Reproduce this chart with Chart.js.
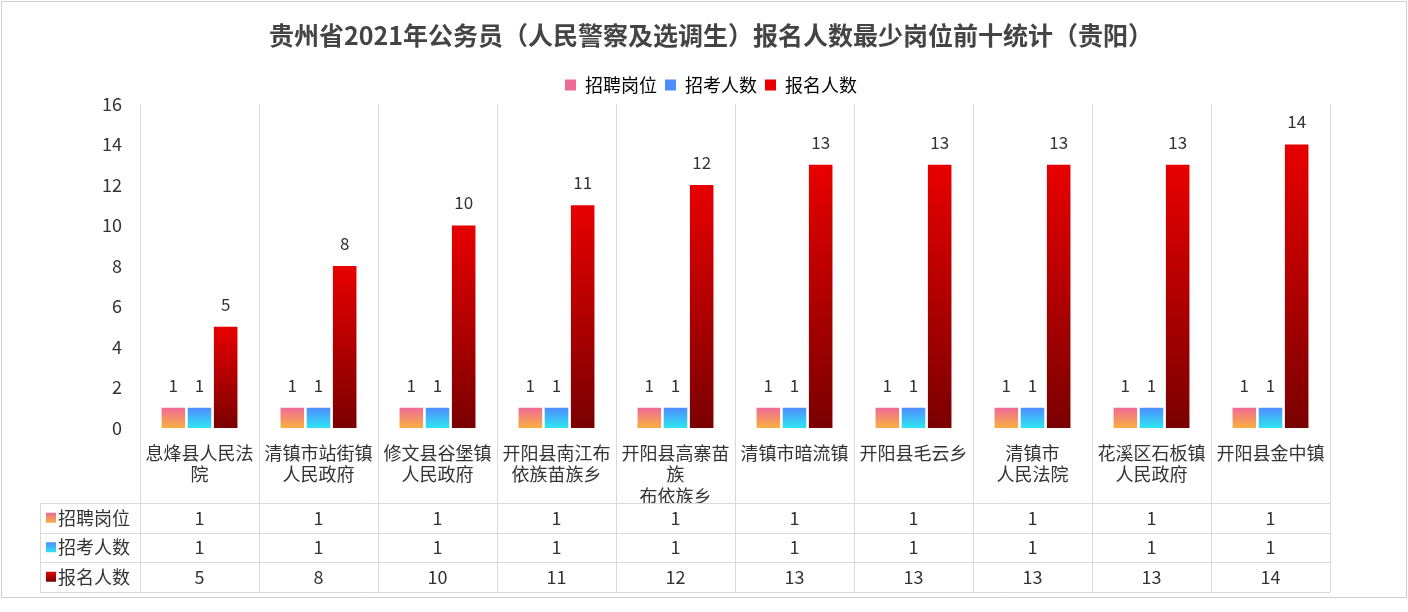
<!DOCTYPE html>
<html><head><meta charset="utf-8">
<script src="https://cdn.jsdelivr.net/npm/chart.js@4"></script>
<style>body{margin:0;background:#fff}#wrap{width:1408px;height:612px}</style>
</head><body>
<div id="wrap"><canvas id="canvas" width="1408" height="612"></canvas></div>
<script>
const categories = [
  ['息烽县人民法', '院'], ['清镇市站街镇', '人民政府'], ['修文县谷堡镇', '人民政府'],
  ['开阳县南江布', '依族苗族乡'], ['开阳县高寨苗', '族', '布依族乡'], ['清镇市暗流镇'],
  ['开阳县毛云乡'], ['清镇市', '人民法院'], ['花溪区石板镇', '人民政府'], ['开阳县金中镇']
];
const posts = [1, 1, 1, 1, 1, 1, 1, 1, 1, 1];
const hires = [1, 1, 1, 1, 1, 1, 1, 1, 1, 1];
const applicants = [5, 8, 10, 11, 12, 13, 13, 13, 13, 14];
const seriesNames = ['招聘岗位', '招考人数', '报名人数'];
const gradColors = [['#f06a98', '#f8b040'], ['#4f8cff', '#2ee6f0'], ['#e80000', '#7a0000']];
const font = '"Noto Sans CJK SC", "Noto Sans", sans-serif';

function grad(i) {
  return function(ctx) {
    const chart = ctx.chart;
    const ys = chart.scales && chart.scales.y;
    if (!chart.chartArea || !ys || ctx.parsed === undefined) return gradColors[i][0];
    const top = ys.getPixelForValue(ctx.parsed.y), base = ys.getPixelForValue(0);
    if (!isFinite(top) || !isFinite(base) || top === base) return gradColors[i][0];
    const g = chart.ctx.createLinearGradient(0, top, 0, base);
    g.addColorStop(0, gradColors[i][0]);
    g.addColorStop(1, gradColors[i][1]);
    return g;
  };
}

const tablePlugin = {
  id: 'tablePlugin',
  afterDraw(chart) {
    const c = chart.ctx, area = chart.chartArea;
    const rowH = 29.5, top = 503, left = 40;
    const sets = chart.data.datasets;
    c.save();
    c.font = '17px ' + font; c.fillStyle = '#333'; c.textAlign = 'center'; c.textBaseline = 'bottom';
    sets.forEach((ds, i) => {
      chart.getDatasetMeta(i).data.forEach((b, j) => c.fillText(ds.data[j], b.x, b.y - 14));
    });
    c.strokeStyle = '#d9d9d9'; c.lineWidth = 1;
    const step = (area.right - area.left) / categories.length;
    for (let k = 0; k <= categories.length; k++) {
      const gx = Math.round(area.left + k * step) + 0.5;
      c.beginPath(); c.moveTo(gx, area.top); c.lineTo(gx, top + rowH * 3); c.stroke();
    }
    c.beginPath(); c.moveTo(left + 0.5, top); c.lineTo(left + 0.5, top + rowH * 3); c.stroke();
    for (let r = 0; r <= 3; r++) {
      const y = Math.round(top + r * rowH) + 0.5;
      c.beginPath(); c.moveTo(left, y); c.lineTo(area.right, y); c.stroke();
    }
    c.textBaseline = 'middle'; c.font = '18px ' + font;
    sets.forEach((ds, r) => {
      const cy = top + r * rowH + rowH / 2;
      const g = c.createLinearGradient(0, cy - 5, 0, cy + 5);
      g.addColorStop(0, gradColors[r][0]); g.addColorStop(1, gradColors[r][1]);
      c.fillStyle = g; c.fillRect(left + 6, cy - 5, 10, 10);
      c.fillStyle = '#333'; c.textAlign = 'left';
      c.fillText(seriesNames[r], left + 18, cy);
      c.textAlign = 'center';
      ds.data.forEach((v, j) => c.fillText(v, area.left + step * (j + 0.5), cy));
    });
    c.strokeStyle = '#d0d0d0';
    c.strokeRect(1.5, 1.5, 1405, 596);
    c.restore();
  }
};

new Chart(document.getElementById('canvas').getContext('2d'), {
  type: 'bar',
  data: {
    labels: categories,
    datasets: [
      { label: seriesNames[0], data: posts, backgroundColor: grad(0) },
      { label: seriesNames[1], data: hires, backgroundColor: grad(1) },
      { label: seriesNames[2], data: applicants, backgroundColor: grad(2) }
    ]
  },
  options: {
    responsive: false, animation: false,
    layout: { padding: { left: 92, right: 78, top: 0, bottom: 108 } },
    datasets: { bar: { categoryPercentage: 0.66, barPercentage: 0.9 } },
    plugins: {
      title: { display: true, text: '贵州省2021年公务员（人民警察及选调生）报名人数最少岗位前十统计（贵阳）',
        font: { family: font, size: 25, weight: 'bold' }, color: '#444', padding: { top: 20, bottom: 18 } },
      legend: { labels: { font: { family: font, size: 18 }, color: '#333', boxWidth: 11, boxHeight: 11, padding: 8,
        generateLabels: () => seriesNames.map((n, i) => ({ text: n, fillStyle: gradColors[i][0], strokeStyle: gradColors[i][0], lineWidth: 0, datasetIndex: i })) } },
      tooltip: { enabled: false }
    },
    scales: {
      x: { grid: { display: false }, border: { display: false },
        ticks: { font: { family: font, size: 18 }, color: '#333', maxRotation: 0, autoSkip: false, padding: 6 },
        afterFit(s) { s.height = 76; } },
      y: { min: 0, max: 16, grid: { display: false }, border: { display: false },
        afterFit(s) { s.width = 48; },
        ticks: { stepSize: 2, font: { family: font, size: 18 }, color: '#333', padding: 10 } }
    }
  },
  plugins: [tablePlugin]
});
</script>
</body></html>
